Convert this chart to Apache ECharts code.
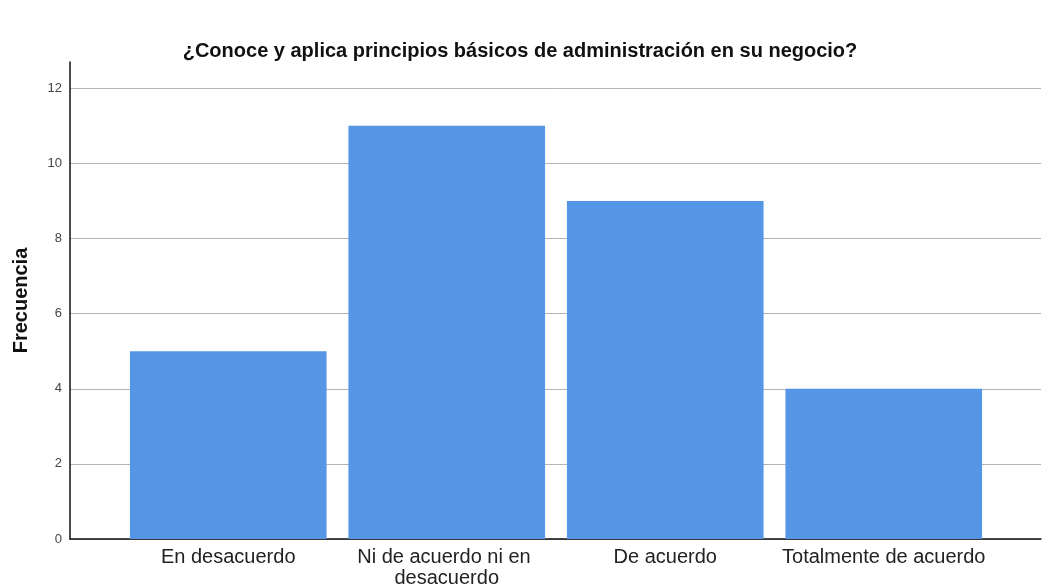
<!DOCTYPE html>
<html>
<head>
<meta charset="utf-8">
<script src="https://cdn.jsdelivr.net/npm/echarts@6/dist/echarts.min.js"></script>
<style>
  html, body { margin: 0; padding: 0; background: #fff; }
  #main { width: 1058px; height: 585px; }
</style>
</head>
<body>
<div id="main"></div>
<script>
var categories = ['En desacuerdo', 'Ni de acuerdo ni en desacuerdo', 'De acuerdo', 'Totalmente de acuerdo'];
var frecuencia = [5, 11, 9, 4];

var myChart = echarts.init(document.getElementById('main'));
var option = {
  backgroundColor: '#ffffff',
  textStyle: { fontFamily: 'Liberation Sans, Arial, sans-serif' },
  title: {
    text: '¿Conoce y aplica principios básicos de administración en su negocio?',
    left: 515,
    top: 36,
    textAlign: 'center',
    textStyle: { fontSize: 20, fontWeight: 'bold', color: '#111' }
  },
  grid: [
    { left: 70, right: 17, top: 62, bottom: 46, outerBoundsMode: 'none', containLabel: false },
    { left: 119, right: 65, top: 62, bottom: 46, outerBoundsMode: 'none', containLabel: false }
  ],
  xAxis: [
    {
      gridIndex: 0, type: 'value', min: 0, max: 1,
      axisLine: { show: true, lineStyle: { color: '#111', width: 1.5 } },
      axisTick: { show: false }, axisLabel: { show: false }, splitLine: { show: false }
    },
    {
      gridIndex: 1, type: 'category', data: categories,
      axisLine: { show: false }, axisTick: { show: false },
      axisLabel: {
        interval: 0, margin: 8, fontSize: 20, color: '#222',
        width: 215, overflow: 'break', lineHeight: 21
      }
    }
  ],
  yAxis: [
    {
      gridIndex: 0, type: 'value', min: 0, max: 12.7, interval: 2,
      name: 'Frecuencia', nameLocation: 'middle', nameGap: 39,
      nameTextStyle: { fontSize: 20, fontWeight: 'bold', color: '#111' },
      axisLine: { show: true, lineStyle: { color: '#111', width: 1.5 } },
      axisTick: { show: false },
      axisLabel: { fontSize: 13, color: '#444', margin: 8, showMaxLabel: false,
        formatter: function (v) { return v % 2 === 0 ? v : ''; } },
      splitLine: { show: true, showMaxLine: false, lineStyle: { color: '#b4b4b4', width: 1 } }
    },
    {
      gridIndex: 1, type: 'value', min: 0, max: 12.7,
      axisLine: { show: false }, axisTick: { show: false },
      axisLabel: { show: false }, splitLine: { show: false }
    }
  ],
  series: [
    {
      name: 'Frecuencia',
      type: 'bar',
      xAxisIndex: 1,
      yAxisIndex: 1,
      barCategoryGap: '10%',
      itemStyle: { color: '#5596e6' },
      data: frecuencia
    }
  ]
};
myChart.setOption(option);
</script>
</body>
</html>
